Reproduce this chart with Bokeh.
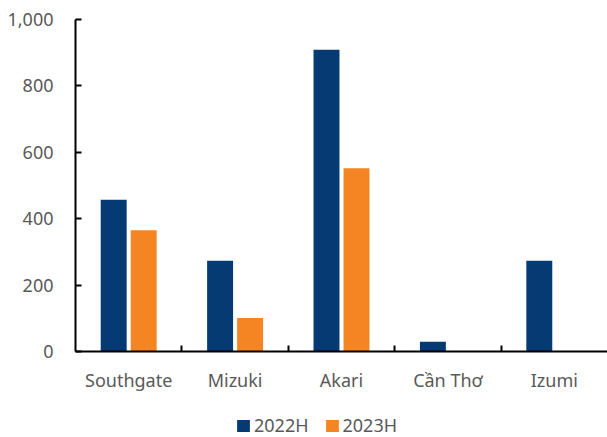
from bokeh.plotting import figure
from bokeh.layouts import column
from bokeh.models import (ColumnDataSource, FixedTicker, NumeralTickFormatter,
                          Legend, LegendItem, Range1d)
from bokeh.embed import file_html
from bokeh.resources import INLINE

categories = ["Southgate", "Mizuki", "Akari", "Cần Thơ", "Izumi"]
series_names = ["2022H", "2023H"]
values_2022 = [457, 273, 909, 29, 273]
values_2023 = [365, 101, 552, 0, 0]
y_ticks = [0, 200, 400, 600, 800, 1000]

colors = ["#053a72", "#f58523"]
FONT = "Noto Sans"
TXT = "#595959"

n = len(categories)
centers = [i + 0.5 for i in range(n)]
off = 0.141
bw = 0.244

p = figure(frame_width=532, frame_height=332, output_backend="svg", toolbar_location=None,
           x_range=Range1d(0, n), y_range=Range1d(0, 1000),
           min_border_left=75, min_border_right=0, min_border_top=19,
           min_border_bottom=62)
p.outline_line_color = None
p.xgrid.visible = False
p.ygrid.visible = False

src = ColumnDataSource(dict(
    x1=[c - off for c in centers], x2=[c + off for c in centers],
    v1=values_2022, v2=values_2023))
p.vbar(x="x1", top="v1", width=bw, bottom=0, source=src,
       fill_color=colors[0], line_color=None)
p.vbar(x="x2", top="v2", width=bw, bottom=0, source=src,
       fill_color=colors[1], line_color=None)

# y axis
ya = p.yaxis[0]
ya.ticker = FixedTicker(ticks=y_ticks, minor_ticks=[])
ya.formatter = NumeralTickFormatter(format="0,0")
ya.major_tick_in = 6
ya.major_tick_out = 0
ya.minor_tick_in = 0
ya.minor_tick_out = 0
ya.axis_line_color = "black"
ya.axis_line_width = 2
ya.major_tick_line_width = 2
ya.major_tick_line_color = "black"
ya.major_label_standoff = 22
ya.major_label_text_font = FONT
ya.major_label_text_font_size = "18px"
ya.major_label_text_color = TXT

# x axis
xa = p.xaxis[0]
xa.ticker = FixedTicker(ticks=centers, minor_ticks=[float(i) for i in range(1, n)])
xa.major_label_overrides = {c: name for c, name in zip(centers, categories)}
xa.major_tick_in = 0
xa.major_tick_out = 0
xa.minor_tick_in = 6
xa.minor_tick_out = 0
xa.minor_tick_line_color = "black"
xa.minor_tick_line_width = 2
xa.axis_line_color = "black"
xa.axis_line_width = 2
xa.major_label_standoff = 16
xa.major_label_text_font = FONT
xa.major_label_text_font_size = "18px"
xa.major_label_text_color = TXT

# legend strip below the chart (zero-height proxy bars only carry the swatches)
lg = figure(width=607, height=24, output_backend="svg", toolbar_location=None,
            x_range=Range1d(0, 1), y_range=Range1d(0, 1),
            min_border=0)
lg.outline_line_color = None
lg.axis.visible = False
lg.grid.visible = False
proxy = ColumnDataSource(dict(x=[0.0], t=[0.0]))
l1 = lg.vbar(x="x", top="t", bottom=0, width=0.001, source=proxy,
             fill_color=colors[0], line_color=None)
l2 = lg.vbar(x="x", top="t", bottom=0, width=0.001, source=proxy,
             fill_color=colors[1], line_color=None)
legend = Legend(items=[LegendItem(label=series_names[0], renderers=[l1]),
                       LegendItem(label=series_names[1], renderers=[l2])],
                orientation="horizontal", location=(160, 0))
legend.border_line_color = None
legend.background_fill_alpha = 0
legend.label_text_font = FONT
legend.label_text_font_size = "18px"
legend.label_text_color = TXT
legend.glyph_width = 16
legend.glyph_height = 15
legend.label_standoff = 3
legend.spacing = 15
legend.padding = 0
legend.margin = 0
lg.add_layout(legend, "center")

layout = column(p, lg, spacing=0)
open("out.html", "w").write(file_html(layout, INLINE))
